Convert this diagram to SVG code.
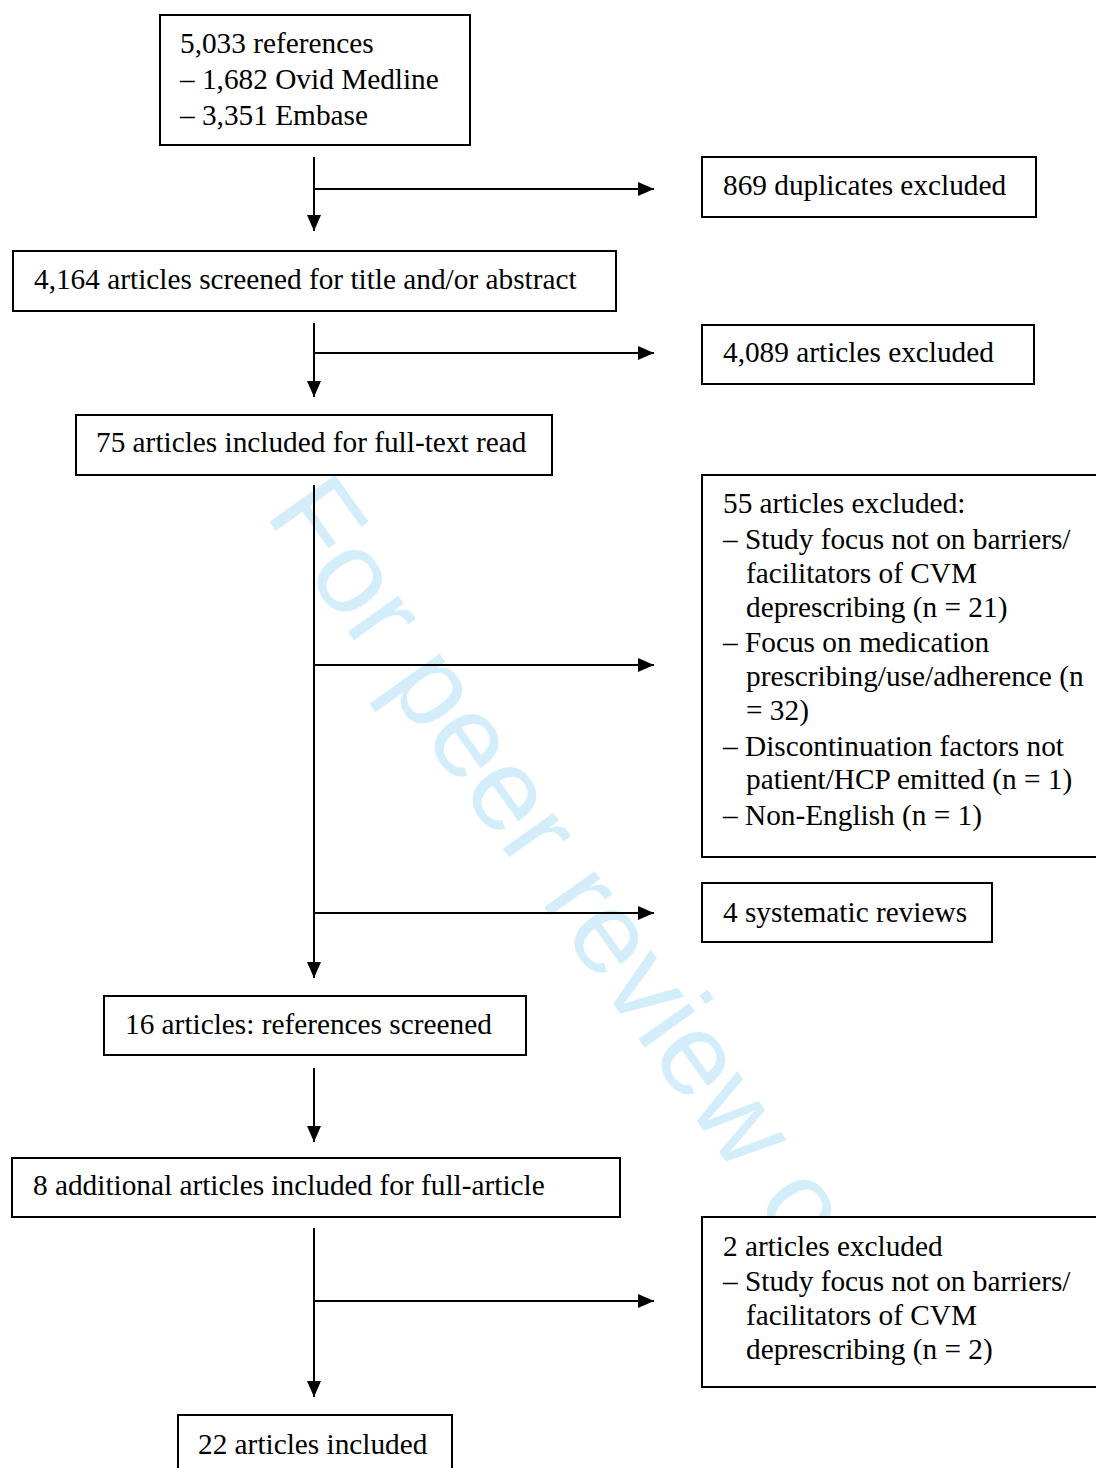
<svg xmlns="http://www.w3.org/2000/svg" width="1096" height="1468" viewBox="0 0 1096 1468">
  <defs>
    <marker id="ah" viewBox="0 0 16 14" refX="16" refY="7" markerWidth="16" markerHeight="14" markerUnits="userSpaceOnUse" orient="auto">
      <path d="M0,0 L16,7 L0,14 Z" fill="#000"/>
    </marker>
    <style>
      .box { fill: #fff; stroke: #000; stroke-width: 2; }
      .t { font-family: "Liberation Serif", "Times New Roman", serif; font-size: 29.3px; fill: #000; }
      .c { fill: none; stroke: #000; stroke-width: 2; }
      .wm { font-family: "Liberation Sans", Arial, sans-serif; font-size: 117px; fill: #d3eefa; }
    </style>
  </defs>
  <rect width="1096" height="1468" fill="#fff"/>

  <g id="watermark">
    <text class="wm" transform="translate(264,514) rotate(54.5)">For peer review o</text>
  </g>

  <g id="connectors">
    <line class="c" x1="314" y1="157" x2="314" y2="231" marker-end="url(#ah)"/>
    <line class="c" x1="313" y1="189" x2="654" y2="189" marker-end="url(#ah)"/>
    <line class="c" x1="314" y1="323" x2="314" y2="397" marker-end="url(#ah)"/>
    <line class="c" x1="313" y1="353" x2="654" y2="353" marker-end="url(#ah)"/>
    <line class="c" x1="314" y1="485" x2="314" y2="978" marker-end="url(#ah)"/>
    <line class="c" x1="313" y1="665" x2="654" y2="665" marker-end="url(#ah)"/>
    <line class="c" x1="313" y1="913" x2="654" y2="913" marker-end="url(#ah)"/>
    <line class="c" x1="314" y1="1068" x2="314" y2="1142" marker-end="url(#ah)"/>
    <line class="c" x1="314" y1="1228" x2="314" y2="1397" marker-end="url(#ah)"/>
    <line class="c" x1="313" y1="1301" x2="654" y2="1301" marker-end="url(#ah)"/>
  </g>

  <g id="n-references">
    <rect class="box" x="160" y="15" width="310" height="130"/>
    <text class="t" x="180" y="53">5,033 references</text>
    <text class="t" x="180" y="89">– 1,682 Ovid Medline</text>
    <text class="t" x="180" y="125">– 3,351 Embase</text>
  </g>

  <g id="n-duplicates">
    <rect class="box" x="702" y="157" width="334" height="60"/>
    <text class="t" x="723" y="195">869 duplicates excluded</text>
  </g>

  <g id="n-screened">
    <rect class="box" x="13" y="251" width="603" height="60"/>
    <text class="t" x="34" y="289">4,164 articles screened for title and/or abstract</text>
  </g>

  <g id="n-excluded1">
    <rect class="box" x="702" y="325" width="332" height="59"/>
    <text class="t" x="723" y="362">4,089 articles excluded</text>
  </g>

  <g id="n-fulltext">
    <rect class="box" x="76" y="415" width="476" height="60"/>
    <text class="t" x="96" y="452">75 articles included for full-text read</text>
  </g>

  <g id="n-excluded2">
    <rect class="box" x="702" y="475" width="400" height="382"/>
    <text class="t" x="723" y="513">55 articles excluded:</text>
    <text class="t" x="723" y="549">– Study focus not on barriers/</text>
    <text class="t" x="746" y="583">facilitators of CVM</text>
    <text class="t" x="746" y="617">deprescribing (n = 21)</text>
    <text class="t" x="723" y="652">– Focus on medication</text>
    <text class="t" x="746" y="686">prescribing/use/adherence (n</text>
    <text class="t" x="746" y="720">= 32)</text>
    <text class="t" x="723" y="756">– Discontinuation factors not</text>
    <text class="t" x="746" y="789">patient/HCP emitted (n = 1)</text>
    <text class="t" x="723" y="825">– Non-English (n = 1)</text>
  </g>

  <g id="n-systematic">
    <rect class="box" x="702" y="883" width="290" height="59"/>
    <text class="t" x="723" y="922">4 systematic reviews</text>
  </g>

  <g id="n-refscreened">
    <rect class="box" x="104" y="996" width="422" height="59"/>
    <text class="t" x="125" y="1034">16 articles: references screened</text>
  </g>

  <g id="n-additional">
    <rect class="box" x="12" y="1158" width="608" height="59"/>
    <text class="t" x="33" y="1195">8 additional articles included for full-article</text>
  </g>

  <g id="n-excluded3">
    <rect class="box" x="702" y="1217" width="400" height="170"/>
    <text class="t" x="723" y="1256">2 articles excluded</text>
    <text class="t" x="723" y="1291">– Study focus not on barriers/</text>
    <text class="t" x="746" y="1325">facilitators of CVM</text>
    <text class="t" x="746" y="1359">deprescribing (n = 2)</text>
  </g>

  <g id="n-included">
    <rect class="box" x="178" y="1415" width="274" height="70"/>
    <text class="t" x="198" y="1454">22 articles included</text>
  </g>
</svg>
